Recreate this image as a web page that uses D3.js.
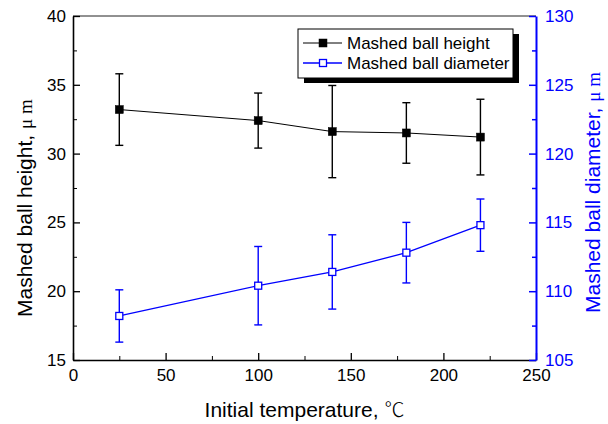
<!DOCTYPE html>
<meta charset="utf-8" />
<script src="https://d3js.org/d3.v7.js"></script>
<style>
  body { margin: 0; background: white; }
  text { font-family: "Liberation Sans", Arial, sans-serif; }
</style>
<div id="my_dataviz"></div>
<script>
  // data
  const temps = [25, 100, 140, 180, 220];
  const ballHeight = [33.2, 32.4, 31.6, 31.5, 31.2];
  const ballHeightErr = [2.6, 2.0, 3.35, 2.2, 2.75];
  const ballDiameter = [108.2, 110.4, 111.4, 112.8, 114.8];
  const ballDiameterErr = [1.9, 2.85, 2.7, 2.2, 1.9];
  const xTicks = [0, 50, 100, 150, 200, 250];
  const leftTicks = [15, 20, 25, 30, 35, 40];
  const rightTicks = [105, 110, 115, 120, 125, 130];
  const legendLabels = ["Mashed ball height", "Mashed ball diameter"];

  const blue = "#0000ff";
  const margin = { top: 16, right: 72, bottom: 64, left: 73 },
    width = 608 - margin.left - margin.right,
    height = 424 - margin.top - margin.bottom;

  const svg = d3
    .select("#my_dataviz")
    .append("svg")
    .attr("width", 608)
    .attr("height", 424)
    .append("g")
    .attr("transform", `translate(${margin.left}, ${margin.top})`);

  const x = d3.scaleLinear().domain([0, 250]).range([0, width]);
  const yL = d3.scaleLinear().domain([15, 40]).range([height, 0]);
  const yR = d3.scaleLinear().domain([105, 130]).range([height, 0]);

  // minor tick helpers
  const halves = (ticks) => ticks.slice(0, -1).map((t, i) => (t + ticks[i + 1]) / 2);

  // top frame line
  svg
    .append("line")
    .attr("x1", 0)
    .attr("x2", width)
    .attr("y1", 0)
    .attr("y2", 0)
    .attr("stroke", "#222")
    .attr("stroke-width", 1);

  // bottom axis
  const xAxis = svg.append("g").attr("transform", `translate(0, ${height})`);
  xAxis.call(d3.axisBottom(x).tickValues(xTicks).tickSize(-7).tickSizeOuter(0).tickPadding(9));
  svg
    .append("g")
    .attr("transform", `translate(0, ${height})`)
    .call(d3.axisBottom(x).tickValues(halves(xTicks)).tickSize(-4).tickFormat(""))
    .select(".domain")
    .remove();

  // left axis
  const yAxisL = svg.append("g");
  yAxisL.call(d3.axisLeft(yL).tickValues(leftTicks).tickSize(-7).tickSizeOuter(0).tickPadding(7));
  svg
    .append("g")
    .call(d3.axisLeft(yL).tickValues(halves(leftTicks)).tickSize(-4).tickFormat(""))
    .select(".domain")
    .remove();

  // right axis
  const yAxisR = svg.append("g").attr("transform", `translate(${width}, 0)`);
  yAxisR.call(d3.axisRight(yR).tickValues(rightTicks).tickSize(-7).tickSizeOuter(0).tickPadding(9));
  const rMinor = svg
    .append("g")
    .attr("transform", `translate(${width}, 0)`)
    .call(d3.axisRight(yR).tickValues(halves(rightTicks)).tickSize(-4).tickFormat(""));
  rMinor.select(".domain").remove();

  [xAxis, yAxisL].forEach((a) => {
    a.select(".domain").attr("stroke", "#000").attr("stroke-width", 1.6);
    a.selectAll(".tick line").attr("stroke", "#000").attr("stroke-width", 1.3);
    a.selectAll("text").attr("fill", "#000").style("font-size", "17px");
  });
  yAxisR.select(".domain").attr("stroke", blue).attr("stroke-width", 2);
  yAxisR.selectAll(".tick line").attr("stroke", blue).attr("stroke-width", 1.5);
  yAxisR.selectAll("text").attr("fill", blue).style("font-size", "17px");
  rMinor.selectAll(".tick line").attr("stroke", blue).attr("stroke-width", 1.5);

  // axis titles
  const xTitle = svg
    .append("text")
    .attr("x", width / 2)
    .attr("y", 401)
    .attr("text-anchor", "middle")
    .style("font-size", "21px")
    .attr("fill", "#000");
  xTitle.append("tspan").text("Initial temperature,  ");
  xTitle
    .append("tspan")
    .style("font-family", "Noto Sans CJK SC")
    .style("font-weight", 300)
    .style("font-size", "20px")
    .text("℃");

  const leftTitle = svg
    .append("text")
    .attr("transform", `translate(${32 - margin.left}, ${317 - margin.top}) rotate(-90)`)
    .style("font-size", "21px")
    .attr("fill", "#000");
  leftTitle.append("tspan").text("Mashed ball height, ");
  leftTitle.append("tspan").style("font-family", "Liberation Serif").style("font-size", "19px").text("μ m");

  const rightTitle = svg
    .append("text")
    .attr("transform", `translate(${600 - margin.left}, ${313 - margin.top}) rotate(-90)`)
    .style("font-size", "21px")
    .attr("fill", blue);
  rightTitle.append("tspan").text("Mashed ball diameter, ");
  rightTitle.append("tspan").style("font-family", "Liberation Serif").style("font-size", "19px").text("μ m");

  // series helper
  function drawSeries(vals, errs, y, color, filled) {
    const data = temps.map((t, i) => ({ t: t, v: vals[i], e: errs[i] }));
    svg
      .append("path")
      .datum(data)
      .attr("fill", "none")
      .attr("stroke", color)
      .attr("stroke-width", filled ? 1 : 1.3)
      .attr("d", d3.line().x((d) => x(d.t)).y((d) => y(d.v)));

    const bars = svg.append("g").selectAll("g").data(data).join("g");
    bars
      .append("line")
      .attr("x1", (d) => x(d.t))
      .attr("x2", (d) => x(d.t))
      .attr("y1", (d) => y(d.v + d.e))
      .attr("y2", (d) => y(d.v - d.e))
      .attr("stroke", color)
      .attr("stroke-width", 1.4);
    [1, -1].forEach((s) => {
      bars
        .append("line")
        .attr("x1", (d) => x(d.t) - 4)
        .attr("x2", (d) => x(d.t) + 4)
        .attr("y1", (d) => y(d.v + s * d.e))
        .attr("y2", (d) => y(d.v + s * d.e))
        .attr("stroke", color)
        .attr("stroke-width", 1.4);
    });

    svg
      .append("g")
      .selectAll("rect")
      .data(data)
      .join("rect")
      .attr("x", (d) => x(d.t) - (filled ? 4 : 3.5))
      .attr("y", (d) => y(d.v) - (filled ? 4 : 3.5))
      .attr("width", filled ? 8 : 7)
      .attr("height", filled ? 8 : 7)
      .attr("fill", filled ? "#000" : "#fff")
      .attr("stroke", color)
      .attr("stroke-width", filled ? 0.5 : 1.3);
  }

  drawSeries(ballHeight, ballHeightErr, yL, "#000", true);
  drawSeries(ballDiameter, ballDiameterErr, yR, blue, false);

  // legend
  const legend = svg.append("g").attr("transform", `translate(${298 - margin.left}, ${29 - margin.top})`);
  legend.append("rect").attr("x", 6).attr("y", 5).attr("width", 215).attr("height", 49).attr("fill", "#000");
  legend
    .append("rect")
    .attr("width", 215)
    .attr("height", 49)
    .attr("fill", "#fff")
    .attr("stroke", "#000")
    .attr("stroke-width", 1);

  legendLabels.forEach((label, i) => {
    const color = i === 0 ? "#000" : blue;
    const ly = 14 + i * 20;
    legend
      .append("line")
      .attr("x1", 5)
      .attr("x2", 44)
      .attr("y1", ly)
      .attr("y2", ly)
      .attr("stroke", color)
      .attr("stroke-width", i === 0 ? 1 : 1.3);
    legend
      .append("rect")
      .attr("x", i === 0 ? 21 : 21.5)
      .attr("y", ly - (i === 0 ? 4 : 3.5))
      .attr("width", i === 0 ? 8 : 7)
      .attr("height", i === 0 ? 8 : 7)
      .attr("fill", i === 0 ? "#000" : "#fff")
      .attr("stroke", color)
      .attr("stroke-width", i === 0 ? 0.5 : 1.3);
    legend
      .append("text")
      .attr("x", 49)
      .attr("y", ly + 6)
      .style("font-size", "17px")
      .attr("fill", "#000")
      .text(label);
  });
</script>
